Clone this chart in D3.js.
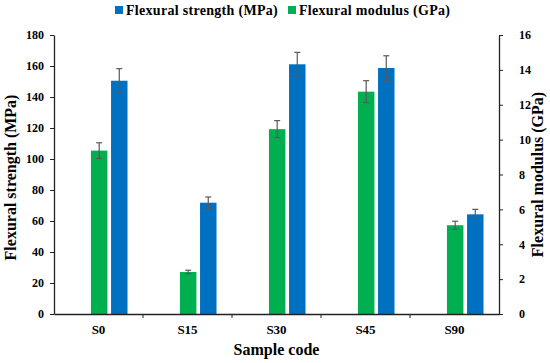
<!DOCTYPE html>
<html>
<head>
<meta charset="utf-8">
<script src="https://cdn.jsdelivr.net/npm/d3@7"></script>
<style>
  html, body { margin: 0; padding: 0; background: #fff; }
  svg { display: block; }
  text { font-family: "Liberation Serif", "Times New Roman", serif; font-weight: bold; fill: #000; }
</style>
</head>
<body>
<svg id="chart" width="550" height="363"></svg>
<script>
const categories = ["S0", "S15", "S30", "S45", "S90"];
const strength = [150.5, 71.8, 161.1, 158.7, 64.3];
const strengthErr = [7.8, 3.7, 7.7, 7.9, 3.2];
const modulus = [9.37, 2.41, 10.6, 12.75, 5.09];
const modulusErr = [0.45, 0.1, 0.49, 0.63, 0.23];
const leftTicks = [0, 20, 40, 60, 80, 100, 120, 140, 160, 180];
const rightTicks = [0, 2, 4, 6, 8, 10, 12, 14, 16];
const seriesNames = ["Flexural strength (MPa)", "Flexural modulus (GPa)"];
const colors = { strength: "#0070C0", modulus: "#00B050" };

const svg = d3.select("#chart");
const m = { left: 54, right: 499, top: 35, bottom: 314 };

const x = d3.scaleBand().domain(categories).range([m.left, m.right]).padding(0);
const x1 = d3.scaleBand().domain(["modulus", "strength"])
  .range([x.bandwidth() * 0.415, x.bandwidth() * 0.826]).paddingInner(0.18);
const yL = d3.scaleLinear().domain([0, 180]).range([m.bottom, m.top]);
const yR = d3.scaleLinear().domain([0, 16]).range([m.bottom, m.top]);

// bars
const rows = categories.map((c, i) => ({ c, s: strength[i], se: strengthErr[i], mo: modulus[i], me: modulusErr[i] }));
const g = svg.append("g");
rows.forEach(r => {
  const x0 = x(r.c);
  g.append("rect")
    .attr("x", x0 + x1("modulus")).attr("width", x1.bandwidth())
    .attr("y", yR(r.mo)).attr("height", yR(0) - yR(r.mo))
    .attr("fill", colors.modulus);
  g.append("rect")
    .attr("x", x0 + x1("strength")).attr("width", x1.bandwidth())
    .attr("y", yL(r.s)).attr("height", yL(0) - yL(r.s))
    .attr("fill", colors.strength);
});

// error bars
function errBar(cx, yTop, yBot) {
  const e = svg.append("g").attr("stroke", "#595959").attr("stroke-width", 1.2);
  e.append("line").attr("x1", cx).attr("x2", cx).attr("y1", yTop).attr("y2", yBot);
  e.append("line").attr("x1", cx - 3).attr("x2", cx + 3).attr("y1", yTop).attr("y2", yTop);
  e.append("line").attr("x1", cx - 3).attr("x2", cx + 3).attr("y1", yBot).attr("y2", yBot);
}
rows.forEach(r => {
  const x0 = x(r.c);
  errBar(x0 + x1("modulus") + x1.bandwidth() / 2, yR(r.mo + r.me), yR(r.mo - r.me));
  errBar(x0 + x1("strength") + x1.bandwidth() / 2, yL(r.s + r.se), yL(r.s - r.se));
});

// axes
const axisColor = "#222";
const left = svg.append("g").attr("transform", `translate(${m.left},0)`)
  .call(d3.axisLeft(yL).tickValues(leftTicks).tickSize(4).tickPadding(6).tickSizeOuter(0));
const right = svg.append("g").attr("transform", `translate(${m.right},0)`)
  .call(d3.axisRight(yR).tickValues(rightTicks).tickSize(4).tickPadding(16).tickSizeOuter(0));
const bottom = svg.append("g").attr("transform", `translate(0,${m.bottom})`)
  .call(d3.axisBottom(x).tickValues([]).tickSizeOuter(0));
bottom.selectAll(".bt").data(categories.slice(1)).enter().append("line")
  .attr("x1", d => x(d)).attr("x2", d => x(d)).attr("y1", 0).attr("y2", 4)
  .attr("stroke", axisColor);
bottom.selectAll(".cl").data(categories).enter().append("text")
  .attr("x", d => x(d) + x.bandwidth() / 2).attr("y", 20)
  .attr("text-anchor", "middle").style("font-size", "13px").text(d => d);

[left, right, bottom].forEach(a => {
  a.selectAll("path.domain").attr("stroke", axisColor).attr("stroke-width", 1.3);
  a.selectAll(".tick line").attr("stroke", axisColor);
  a.selectAll(".tick text").style("font-size", "12px").attr("fill", "#000");
});
right.selectAll(".tick text").attr("text-anchor", "start");

// axis titles
svg.append("text").attr("transform", `translate(16,${(m.top + m.bottom) / 2 + 3}) rotate(-90)`)
  .attr("text-anchor", "middle").style("font-size", "16px").text("Flexural strength (MPa)");
svg.append("text").attr("transform", `translate(543,${(m.top + m.bottom) / 2}) rotate(-90)`)
  .attr("text-anchor", "middle").style("font-size", "16px").text("Flexural modulus (GPa)");
svg.append("text").attr("x", (m.left + m.right) / 2).attr("y", 355)
  .attr("text-anchor", "middle").style("font-size", "16px").text("Sample code");

// legend
const legend = [
  { name: seriesNames[0], color: colors.strength, x: 115 },
  { name: seriesNames[1], color: colors.modulus, x: 288 }
];
legend.forEach(l => {
  svg.append("rect").attr("x", l.x).attr("y", 6).attr("width", 8).attr("height", 8).attr("fill", l.color);
  svg.append("text").attr("x", l.x + 11).attr("y", 14.5).style("font-size", "14px")
    .style("letter-spacing", "0.3px").text(l.name);
});
</script>
</body>
</html>
